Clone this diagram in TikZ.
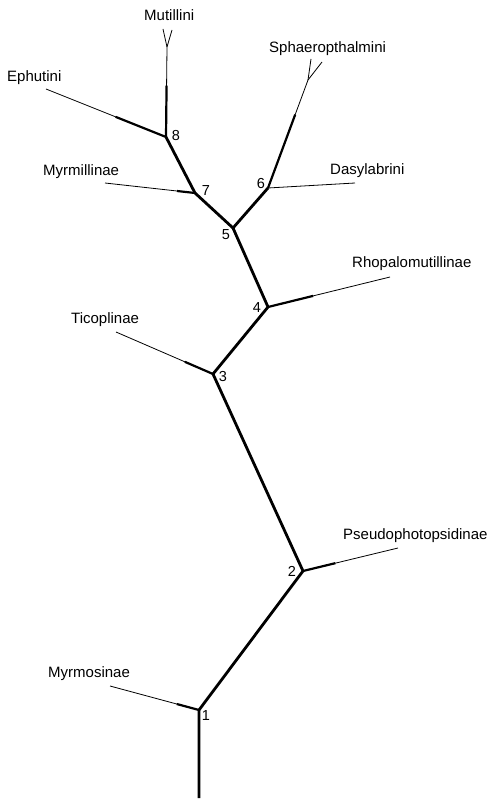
\documentclass[tikz,border=0pt]{standalone}
\usepackage{fontspec}
\setmainfont{Liberation Sans}
\usetikzlibrary{calc}
\tikzset{
  stem/.style={line width=2.8pt,line join=round},
  twig/.style={line width=0.8pt},
  taper/.style={line width=2.2pt},
  taxon/.style={anchor=base west,inner sep=0pt,font=\fontsize{15}{18}\selectfont},
  numlab/.style={inner sep=0pt,font=\fontsize{14.5}{17}\selectfont}
}

\begin{document}
\begin{tikzpicture}[x=1pt,y=-1pt]
\useasboundingbox (0,0) rectangle (491,799);
% branch points
\coordinate (root) at (199,798);
\coordinate (n1) at (199,710);
\coordinate (n2) at (303,571);
\coordinate (n3) at (213,374);
\coordinate (n4) at (268,307);
\coordinate (n5) at (233,228);
\coordinate (n6) at (268,188);
\coordinate (n7) at (195,193);
\coordinate (n8) at (166,137);
% tips
\coordinate (tmyrmo) at (110,686);
\coordinate (tpseudo) at (398,548);
\coordinate (tticop) at (116,332);
\coordinate (trhopa) at (390,277);
\coordinate (tmyrmi) at (105,183);
\coordinate (tephut) at (46,89);
\coordinate (tdasyl) at (355,183);
\coordinate (fmutil) at (167,47);
\coordinate (fsphae) at (308,80);

\node[numlab] (l1) at (206,716) {1};
\node[numlab] (l2) at (292,571) {2};
\node[numlab] (l3) at (223,377) {3};
\node[numlab] (l4) at (257,308) {4};
\node[numlab] (l5) at (226,235) {5};
\node[numlab] (l6) at (261,184) {6};
\node[numlab] (l7) at (206,191) {7};
\node[numlab] (l8) at (176,136) {8};

% main stem
\draw[stem] (root) -- (n1) -- (n2) -- (n3) -- (n4) -- (n5) -- (n6);
\draw[stem] (n5) -- (n7) -- (n8);

% terminal branches
\draw[twig] (n1) -- (tmyrmo);
\draw[taper] (n1) -- ($(n1)!0.25!(tmyrmo)$);
\draw[twig] (n2) -- (tpseudo);
\draw[taper] (n2) -- ($(n2)!0.34!(tpseudo)$);
\draw[twig] (n3) -- (tticop);
\draw[taper] (n3) -- ($(n3)!0.29!(tticop)$);
\draw[twig] (n4) -- (trhopa);
\draw[taper] (n4) -- ($(n4)!0.37!(trhopa)$);
\draw[twig] (n7) -- (tmyrmi);
\draw[taper] (n7) -- ($(n7)!0.2!(tmyrmi)$);
\draw[twig] (n8) -- (tephut);
\draw[taper] (n8) -- ($(n8)!0.42!(tephut)$);
\draw[twig] (n6) -- (tdasyl);
\draw[twig] (n8) -- (fmutil);
\draw[taper] (n8) -- ($(n8)!0.57!(fmutil)$);
\draw[twig] (n6) -- (fsphae);
\draw[taper] (n6) -- ($(n6)!0.68!(fsphae)$);
\draw[twig] (fmutil) -- ++(-4,-18);
\draw[twig] (fmutil) -- ++(5,-17);
\draw[twig] (fsphae) -- ++(3,-21);
\draw[twig] (fsphae) -- ++(14,-18);

% labels
\node[taxon] (mutil) at (144,21) {Mutillini};
\node[taxon] (ephut) at (7,82) {Ephutini};
\node[taxon] (sphae) at (269,53) {Sphaeropthalmini};
\node[taxon] (myrmi) at (43,176) {Myrmillinae};
\node[taxon] (dasyl) at (330,175) {Dasylabrini};
\node[taxon] (rhopa) at (352,267) {Rhopalomutillinae};
\node[taxon] (ticop) at (71,323) {Ticoplinae};
\node[taxon] (pseudo) at (343,539) {Pseudophotopsidinae};
\node[taxon] (myrmo) at (48,677) {Myrmosinae};
\end{tikzpicture}
\end{document}
